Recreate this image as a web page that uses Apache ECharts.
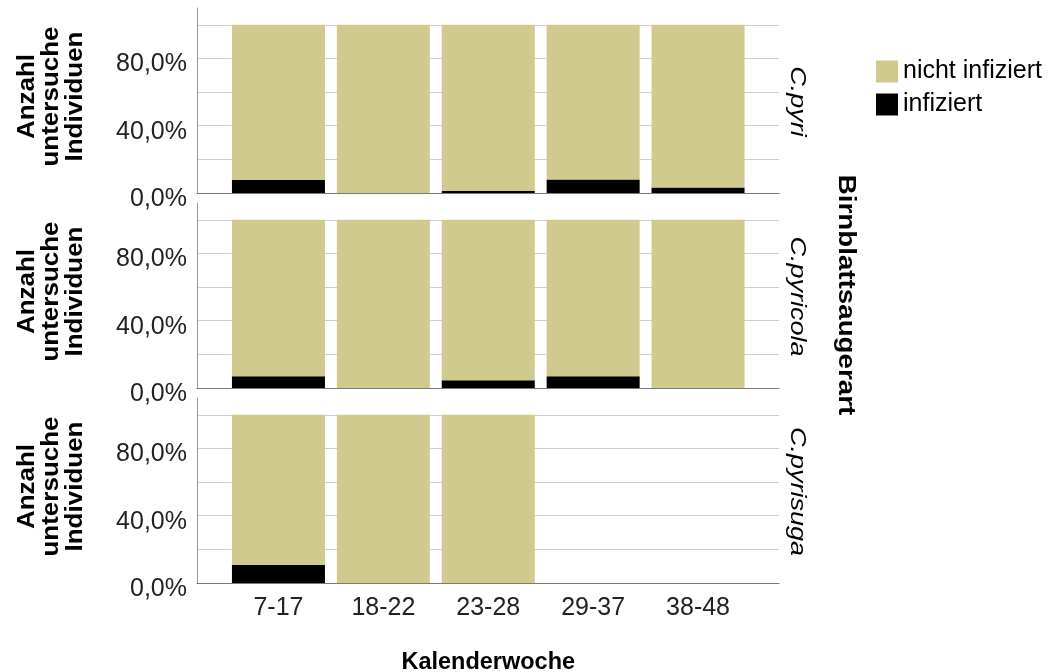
<!DOCTYPE html>
<html>
<head>
<meta charset="utf-8">
<script src="https://cdn.jsdelivr.net/npm/echarts@6/dist/echarts.min.js"></script>
<style>
html,body{margin:0;padding:0;background:#fff;}
#chart{width:1051px;height:672px;}
</style>
</head>
<body>
<div id="chart"></div>
<script>
const categories = ['7-17', '18-22', '23-28', '29-37', '38-48'];
const species = ['C.pyri', 'C.pyricola', 'C.pyrisuga'];
const yTickLabels = [0, 40, 80];
const yGridTicks = [0, 20, 40, 60, 80, 100];

// Percent infected / not infected per panel (C.pyri, C.pyricola, C.pyrisuga)
const infPyri = [7.8, 0, 1.2, 8.1, 3.2];
const nichtPyri = [92.2, 100, 98.8, 91.9, 96.8];
const infPyricola = [7.0, 0, 4.6, 7.0, 0];
const nichtPyricola = [93.0, 100, 95.4, 93.0, 100];
const infPyrisuga = [10.8, 0, 0, null, null];
const nichtPyrisuga = [89.2, 100, 100, null, null];

const infected = [infPyri, infPyricola, infPyrisuga];
const notInfected = [nichtPyri, nichtPyricola, nichtPyrisuga];

const FONT = 'Liberation Sans, Arial, sans-serif';
const BEIGE = '#d0ca8e';
const PANEL_TOP = [8, 203, 398];
const PANEL_H = 185;

const grids = [], xAxes = [], yAxes = [], series = [], graphics = [];
// frame grids (axes, gridlines, labels)
for (let i = 0; i < 3; i++) {
  grids.push({ left: 197, width: 582, top: PANEL_TOP[i], height: PANEL_H, outerBoundsMode: 'none', containLabel: false });
  xAxes.push({
    type: 'value', gridIndex: i, min: 0, max: 1,
    axisLine: { show: true, onZero: false, lineStyle: { color: '#7a7a7a', width: 1 } },
    axisTick: { show: false }, splitLine: { show: false }, axisLabel: { show: false }
  });
  yAxes.push({
    type: 'value', gridIndex: i, min: 0, max: 110, interval: 20,
    axisLine: { show: true, onZero: false, lineStyle: { color: '#999', width: 1 } },
    axisTick: { show: false, customValues: yGridTicks },
    splitLine: { show: true, lineStyle: { color: ['#cfcfcf', '#cfcfcf', '#cfcfcf', '#cfcfcf', '#cfcfcf', '#cfcfcf', 'rgba(0,0,0,0)'], width: 1 } },
    axisLabel: {
      customValues: yTickLabels,
      formatter: v => v.toFixed(1).replace('.', ',') + '%',
      fontSize: 25, color: '#222', fontFamily: FONT, margin: 10,
      verticalAlign: 'top', lineHeight: 12
    }
  });
  const mid = PANEL_TOP[i] + PANEL_H / 2;
  graphics.push({
    type: 'text', x: 52, y: mid - 4, rotation: Math.PI / 2, scaleX: 1.13,
    style: { text: 'Anzahl\nuntersuche\nIndividuen', font: 'bold 23px ' + FONT, fill: '#000',
      align: 'center', verticalAlign: 'middle', lineHeight: 24 }
  });
  graphics.push({
    type: 'text', x: 797, y: mid + 1, rotation: -Math.PI / 2, scaleX: 1.2,
    style: { text: species[i], font: 'italic 22.5px ' + FONT, fill: '#000',
      align: 'center', verticalAlign: 'middle' }
  });
}
// bar grids (category axis spanning the bars only)
for (let i = 0; i < 3; i++) {
  grids.push({ left: 226, width: 524.5, top: PANEL_TOP[i], height: PANEL_H, outerBoundsMode: 'none', containLabel: false });
  xAxes.push({
    type: 'category', gridIndex: 3 + i, data: categories,
    axisLine: { show: false }, axisTick: { show: false }, splitLine: { show: false },
    axisLabel: { show: i === 2, fontSize: 25, color: '#222', fontFamily: FONT, margin: 13 },
    name: i === 2 ? 'Kalenderwoche' : '',
    nameLocation: 'middle', nameGap: 68,
    nameTextStyle: { fontSize: 23.5, fontWeight: 'bold', color: '#000', fontFamily: FONT }
  });
  yAxes.push({
    type: 'value', gridIndex: 3 + i, min: 0, max: 110, show: false,
    splitLine: { show: false }
  });
}
for (let i = 0; i < 3; i++) {
  series.push({
    type: 'bar', name: 'infiziert', xAxisIndex: 3 + i, yAxisIndex: 3 + i, stack: 's' + i,
    barWidth: 93, data: infected[i],
    itemStyle: { color: '#000' }
  });
  series.push({
    type: 'bar', name: 'nicht infiziert', xAxisIndex: 3 + i, yAxisIndex: 3 + i, stack: 's' + i,
    barWidth: 93, data: notInfected[i],
    itemStyle: { color: BEIGE }
  });
}
graphics.push({
  type: 'text', x: 845, y: 295, rotation: -Math.PI / 2, scaleX: 1.18,
  style: { text: 'Birnblattsaugerart', font: 'bold 23.5px ' + FONT, fill: '#000', align: 'center', verticalAlign: 'middle' }
});

const chart = echarts.init(document.getElementById('chart'), null, { renderer: 'canvas' });
chart.setOption({
  animation: false,
  backgroundColor: '#fff',
  textStyle: { fontFamily: FONT },
  grid: grids,
  xAxis: xAxes,
  yAxis: yAxes,
  series: series,
  legend: {
    data: ['nicht infiziert', 'infiziert'],
    orient: 'vertical', left: 876, top: 59, padding: 0,
    itemWidth: 22, itemHeight: 22, itemGap: 8, icon: 'rect',
    textStyle: { fontSize: 25, color: '#000', fontFamily: FONT },
    selectedMode: false
  },
  graphic: graphics
});
</script>
</body>
</html>
